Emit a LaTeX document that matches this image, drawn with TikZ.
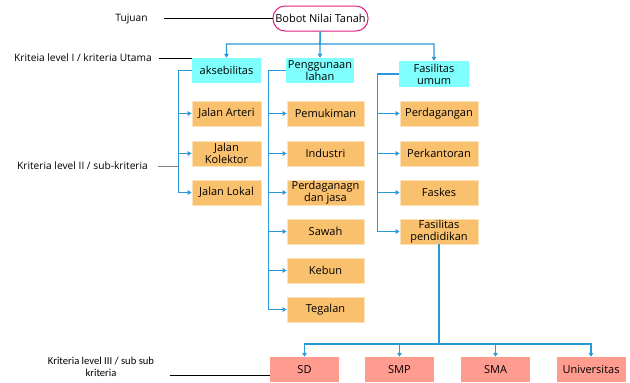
\documentclass[tikz,border=0pt]{standalone}
\usepackage{fontspec}
\setmainfont{Open Sans}
\newfontfamily\calibri{Carlito}
\usetikzlibrary{arrows.meta}
\definecolor{biru}{HTML}{2A98D8}
\definecolor{sian}{HTML}{80FFFF}
\definecolor{oranye}{HTML}{F9C06E}
\definecolor{oranyemuda}{HTML}{FCE2B8}
\definecolor{salmon}{HTML}{FF9B8F}
\definecolor{magenta1}{HTML}{E2207E}

\begin{document}
\begin{tikzpicture}[x=1pt,y=-1pt,
  box/.style={inner sep=1pt,minimum height=25pt,align=center,font=\fontsize{11}{12}\selectfont},
  krit/.style={box,fill=sian},
  sub/.style={box,fill=oranye,draw=oranyemuda,line width=0.8pt},
  subsub/.style={box,fill=salmon,minimum width=69pt},
  lbl/.style={font=\fontsize{10.2}{12}\selectfont,align=center},
  link/.style={draw=biru,line width=1.1pt,-{Triangle[length=4pt,width=4.5pt]}},
  guide/.style={draw=black,line width=0.8pt}]
\useasboundingbox (0,0) rectangle (630,383);
% tujuan dan kriteria utama
\node[box,draw=magenta1,line width=1pt,rounded corners=12pt,minimum width=95pt] (goal) at (320.5,18.5) {Bobot Nilai Tanah};
\node[krit,minimum width=69pt] (aks) at (226.5,70.5) {aksebilitas};
\node[krit,minimum width=68pt] (guna) at (320,70.5) {Penggunaan\\lahan};
\node[krit,minimum width=70pt,minimum height=26pt] (fas) at (434,74) {Fasilitas\\umum};
% sub kriteria
\foreach \n/\y/\t in {art/113.5/Jalan Arteri,kol/153.5/{Jalan\\Kolektor},lok/192.5/Jalan Lokal}
  \node[sub,minimum width=69pt] (\n) at (226.5,\y) {\t};
\foreach \n/\y/\t in {muk/113.5/Pemukiman,ind/153.5/Industri,dag/192.5/{Perdaganagn\\dan jasa},saw/231.5/Sawah,keb/270.5/Kebun,teg/309.5/Tegalan}
  \node[sub,minimum width=77pt] (\n) at (325.5,\y) {\t};
\foreach \n/\y/\t in {per/113.5/Perdagangan,kan/153.5/Perkantoran,kes/192.5/Faskes,pend/231.5/{Fasilitas\\pendidikan}}
  \node[sub,minimum width=78pt] (\n) at (439,\y) {\t};
% sub sub kriteria
\foreach \n/\x/\t in {sd/304.5/SD,smp/399.5/SMP,sma/495.5/SMA,univ/591/Universitas}
  \node[subsub] (\n) at (\x,369.5) {\t};
% penghubung
\coordinate (atas) at (320,44);
\coordinate (bawah) at (439,344);
\foreach \n in {aks,guna,fas} \draw[link] (goal) -- (atas) -| (\n);
\foreach \n in {art,kol,lok} \draw[link] (aks.west) -- ++(-13,0) coordinate (t1) |- (\n);
\foreach \n in {muk,ind,dag,saw,keb,teg} \draw[link] (guna.west) -- ++(-17,0) |- (\n);
\foreach \n in {per,kan,kes,pend} \draw[link] (fas.west) -- ++(-21,0) |- (\n);
\foreach \n in {sd,smp,sma,univ} \draw[link] (pend) -- (bawah) -| (\n);
% keterangan level
\node[lbl] (tuj) at (131.5,18.5) {Tujuan};
\node[lbl] (k1) at (83,58) {Kriteia level I / kriteria Utama};
\node[lbl] (k2) at (82.5,166) {Kriteria level II / sub-kriteria};
\node[lbl,font=\calibri\fontsize{10.6}{12.5}\selectfont] (k3) at (101,367) {Kriteria level III / sub sub\\kriteria};
\draw[guide] ([xshift=13pt]tuj.east) -- (tuj.east -| goal.west);
\draw[guide] ([xshift=4pt]k1.east) -- (k1.east -| aks.west);
\draw[guide,draw=gray] ([xshift=7pt]k2.east) -- (k2.east -| t1);
\draw[guide] ([xshift=12pt,yshift=-8pt]k3.east) coordinate (g3) -- (g3 -| sd.west);
\end{tikzpicture}
\end{document}
